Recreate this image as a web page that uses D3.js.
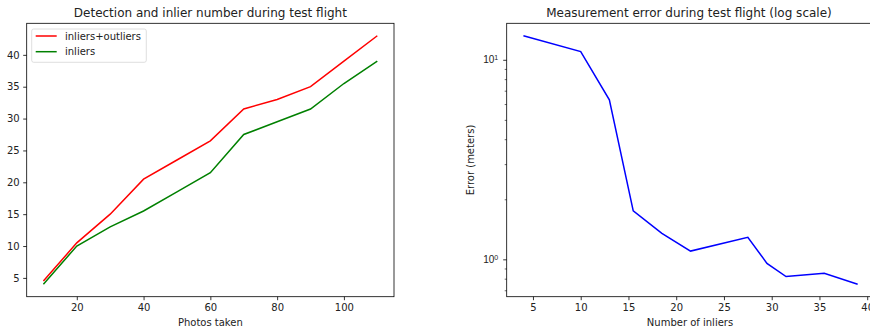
<!DOCTYPE html>
<html><head><meta charset="utf-8">
<script src="https://cdn.jsdelivr.net/npm/d3@7"></script>
<style>body{margin:0;background:#fff}svg{display:block;font-family:"DejaVu Sans",sans-serif}</style>
</head><body><svg id="c" width="870" height="333"></svg>
<script>
const photos = [10,20,30,40,50,60,70,80,90,100,110];
const inliersOutliers = [4.5,10.5,15,20.5,23.5,26.5,31.5,33,35,39,43];
const inliers = [4,10,13,15.5,18.5,21.5,27.5,29.5,31.5,35.5,39];
const errorMeters = [13.2,11.0,6.3,1.75,1.35,1.10,1.29,0.955,0.82,0.851,0.75];
const leftXTicks = [20,40,60,80,100];
const leftYTicks = [5,10,15,20,25,30,35,40];
const rightXTicks = [5,10,15,20,25,30,35,40];
const rightYMajor = [1,10];
const rightYMinor = [0.7,0.8,0.9,2,3,4,5,6,7,8,9];

const svg = d3.select("#c");
function pad(ext, f=0.05){const d=(ext[1]-ext[0])*f;return [ext[0]-d, ext[1]+d];}

function frame(g, x0, y0, w, h){
  g.append("rect").attr("x",x0).attr("y",y0).attr("width",w).attr("height",h)
   .attr("fill","none").attr("stroke","#000").attr("stroke-width",0.8);
}
function styleAxis(sel){
  sel.selectAll(".domain").remove();
  sel.selectAll(".tick line").attr("stroke","#000").attr("stroke-width",0.8);
  sel.selectAll(".tick text").attr("fill","#222").style("font-size","10px").style("font-family","DejaVu Sans");
}

// Left chart
{
  const L=26.7, R=394, T=23.3, B=296.7;
  const x = d3.scaleLinear().domain(pad(d3.extent(photos))).range([L,R]);
  const yAll = inliersOutliers.concat(inliers);
  const y = d3.scaleLinear().domain(pad(d3.extent(yAll))).range([B,T]);
  const g = svg.append("g");
  const line = d3.line().x((d,i)=>x(photos[i])).y(d=>y(d));
  g.append("path").datum(inliersOutliers).attr("d",line).attr("fill","none").attr("stroke","#ff0000").attr("stroke-width",1.5);
  g.append("path").datum(inliers).attr("d",line).attr("fill","none").attr("stroke","#008000").attr("stroke-width",1.5);
  const ax = g.append("g").attr("transform",`translate(0,${B})`).call(d3.axisBottom(x).tickValues(leftXTicks).tickSize(3.5).tickPadding(3.5));
  styleAxis(ax);
  const ay = g.append("g").attr("transform",`translate(${L},0)`).call(d3.axisLeft(y).tickValues(leftYTicks).tickSize(3.5).tickPadding(3.5));
  styleAxis(ay);
  frame(g, L, T, R-L, B-T);
  g.append("text").attr("x",(L+R)/2).attr("y",17).attr("text-anchor","middle").style("font-size","12px").attr("fill","#222").text("Detection and inlier number during test flight");
  g.append("text").attr("x",(L+R)/2).attr("y",326).attr("text-anchor","middle").style("font-size","10px").attr("fill","#222").text("Photos taken");
  // legend
  const lg = g.append("g");
  lg.append("rect").attr("x",31.7).attr("y",29).attr("width",114.6).attr("height",33.3).attr("rx",2)
    .attr("fill","#fff").attr("fill-opacity",0.8).attr("stroke","#d5d5d5").attr("stroke-width",0.8);
  const items=[["inliers+outliers","#ff0000"],["inliers","#008000"]];
  items.forEach((it,i)=>{
    const yy = 36+i*15.7;
    lg.append("line").attr("x1",35.7).attr("x2",56.7).attr("y1",yy).attr("y2",yy).attr("stroke",it[1]).attr("stroke-width",1.5);
    lg.append("text").attr("x",65).attr("y",yy+3.6).style("font-size","10px").attr("fill","#222").text(it[0]);
  });
}

// Right chart
{
  const L=506.7, T=23.3, B=296.7;
  const xd = pad(d3.extent(inliers));
  const x = d3.scaleLinear().domain(xd).range([L, L + (xd[1]-xd[0])*9.55]);
  const R = x(xd[1]);
  const le = d3.extent(errorMeters).map(Math.log10);
  const ld = pad(le);
  const y = d3.scaleLog().domain([Math.pow(10,ld[0]),Math.pow(10,ld[1])]).range([B,T]);
  const g = svg.append("g");
  const line = d3.line().x((d,i)=>x(inliers[i])).y(d=>y(d));
  g.append("path").datum(errorMeters).attr("d",line).attr("fill","none").attr("stroke","#0000ff").attr("stroke-width",1.5);
  const ax = g.append("g").attr("transform",`translate(0,${B})`).call(d3.axisBottom(x).tickValues(rightXTicks).tickSize(3.5).tickPadding(3.5));
  styleAxis(ax);
  const ayMin = g.append("g").attr("transform",`translate(${L},0)`).call(d3.axisLeft(y).tickValues(rightYMinor).tickSize(2).tickFormat(""));
  styleAxis(ayMin);
  ayMin.selectAll(".tick line").attr("stroke-width",0.6);
  const ay = g.append("g").attr("transform",`translate(${L},0)`).call(d3.axisLeft(y).tickValues(rightYMajor).tickSize(3.5).tickPadding(3.5).tickFormat(""));
  styleAxis(ay);
  ay.selectAll(".tick").each(function(d){
    const t = d3.select(this).append("text").attr("x",-8.5).attr("dy","0.32em").attr("text-anchor","end").attr("fill","#222").style("font-size","10px");
    t.append("tspan").text("10");
    t.append("tspan").attr("dy","-0.45em").style("font-size","7px").text(Math.round(Math.log10(d)));
  });
  frame(g, L, T, R-L, B-T);
  g.append("text").attr("x",689).attr("y",17).attr("text-anchor","middle").style("font-size","12px").attr("fill","#222").text("Measurement error during test flight (log scale)");
  g.append("text").attr("x",690).attr("y",326).attr("text-anchor","middle").style("font-size","10px").attr("fill","#222").text("Number of inliers");
  g.append("text").attr("transform",`translate(474,${(T+B)/2}) rotate(-90)`).attr("text-anchor","middle").style("font-size","10px").attr("fill","#222").text("Error (meters)");
}
</script></body></html>
